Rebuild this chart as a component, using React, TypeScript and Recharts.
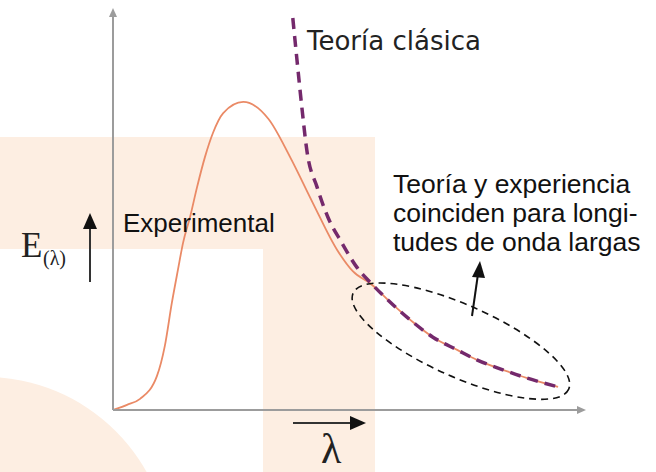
import React from 'react';
import { LineChart, Line, XAxis, YAxis, ReferenceDot } from 'recharts';

// Experimental curve, wavelength vs. emitted energy (arbitrary units)
const expLambda = [0, 3, 5.8, 9.4, 11.1, 12.6, 13.9, 15, 16.5, 18, 19.7, 21.4, 23.6, 27.9, 33.3, 37.9, 42.8, 48, 51.4, 55.3, 60, 64.2, 68.5, 73.7, 77.9, 83.5, 88.7, 95.3];
const expEnergy = [0, 1.3, 2.8, 8.5, 16.1, 26.9, 35.2, 42, 48.5, 56, 63.6, 69.6, 74.6, 77.4, 73.1, 63.6, 52, 40.2, 34.8, 31.6, 26.4, 22.1, 18.3, 15.1, 12.6, 10.1, 8, 5.8];

// Classical theory (Rayleigh-Jeans), blows up at short wavelengths
const classLambda = [38.5, 39.4, 40.5, 41.5, 43.7, 46, 49, 52.2, 55.3, 60, 64.2, 68.5, 73.7, 77.9, 83.5, 88.7, 95.3];
const classEnergy = [98.5, 87.9, 75.4, 65.3, 56, 48.5, 42, 35.9, 31.8, 26.4, 22.1, 18.3, 15.1, 12.6, 10.1, 8, 5.8];

// region where both agree (centre of the dashed ellipse)
const agreeLambda = 74.5;
const agreeEnergy = 17.3;

const noteLines = ['Teoría y experiencia', 'coinciden para longi-', 'tudes de onda largas'];

const experimental = expLambda.map((l, i) => ({ l, e: expEnergy[i] }));
const classical = classLambda.map((l, i) => ({ l, e: classEnergy[i] }));

const W = 656;
const H = 472;
const peach = '#fdeee2';
const sans = '"Liberation Sans", Arial, sans-serif';
const serif = '"Liberation Serif", "Times New Roman", serif';

const Ellipse = (props: any) => {
  const { cx, cy } = props;
  return (
    <ellipse
      cx={cx}
      cy={cy}
      rx={118}
      ry={36}
      transform={`rotate(24 ${cx} ${cy})`}
      fill="none"
      stroke="#111"
      strokeWidth={1.6}
      strokeDasharray="7 5"
    />
  );
};

const App = () => {
  return (
    <div style={{ position: 'absolute', left: 0, top: 0, width: W, height: H, background: '#fff', overflow: 'hidden' }}>
      {/* watermark shapes behind the plot */}
      <svg width={W} height={H} style={{ position: 'absolute', left: 0, top: 0 }}>
        <rect x={0} y={137} width={375} height={112} fill={peach} />
        <rect x={263} y={249} width={112} height={H - 249} fill={peach} />
        <circle cx={-15} cy={562} r={185} fill={peach} />
      </svg>

      <div style={{ position: 'absolute', left: 0, top: 0 }}>
        <LineChart width={W} height={H} margin={{ top: 12, right: 76, bottom: 61, left: 112 }}>
          <XAxis
            dataKey="l"
            type="number"
            domain={[0, 100]}
            allowDataOverflow
            tick={false}
            tickLine={false}
            height={1}
            axisLine={{ stroke: '#9c9c9c', strokeWidth: 2 }}
          />
          <YAxis
            dataKey="e"
            type="number"
            domain={[0, 100]}
            allowDataOverflow
            tick={false}
            tickLine={false}
            width={1}
            axisLine={{ stroke: '#9c9c9c', strokeWidth: 2 }}
          />
          <Line
            data={experimental}
            dataKey="e"
            type="monotone"
            stroke="#ea8a66"
            strokeWidth={1.8}
            dot={false}
            isAnimationActive={false}
          />
          <Line
            data={classical}
            dataKey="e"
            type="monotone"
            stroke="#74296c"
            strokeWidth={3.5}
            strokeDasharray="11 7"
            dot={false}
            isAnimationActive={false}
          />
          <ReferenceDot x={agreeLambda} y={agreeEnergy} shape={Ellipse} ifOverflow="visible" />
        </LineChart>
      </div>

      {/* labels and arrows */}
      <svg width={W} height={H} style={{ position: 'absolute', left: 0, top: 0, pointerEvents: 'none' }}>
        <polygon points="113,8 109,17 117,17" fill="#9c9c9c" />
        <polygon points="586,410 577,406 577,414" fill="#9c9c9c" />

        <text x={307} y={50} fontFamily='"DejaVu Sans", sans-serif' fontSize={26} fill="#222">Teoría clásica</text>
        <text x={123} y={232} fontFamily={sans} fontSize={26} fill="#111">Experimental</text>
        {noteLines.map((t, i) => (
          <text key={t} x={393} y={193 + i * 29} fontFamily={sans} fontSize={26.5} fill="#111">{t}</text>
        ))}
        <line x1={472} y1={316} x2={478} y2={274} stroke="#111" strokeWidth={2} />
        <polygon points="480,261 472,277 485,278" fill="#111" />

        <text x={21} y={257} fontFamily={serif} fontSize={35} fill="#222">E</text>
        <text x={43} y={265} fontFamily={serif} fontSize={20} fill="#222">(λ)</text>
        <line x1={90} y1={282} x2={90} y2={226} stroke="#333" strokeWidth={2} />
        <polygon points="90,213 83,229 97,229" fill="#111" />

        <line x1={293} y1={423} x2={352} y2={423} stroke="#333" strokeWidth={2} />
        <polygon points="366,423 350,416 350,430" fill="#111" />
        <text x={321} y={463} fontFamily={serif} fontSize={42} fill="#222">λ</text>
      </svg>
    </div>
  );
};

export default App;
